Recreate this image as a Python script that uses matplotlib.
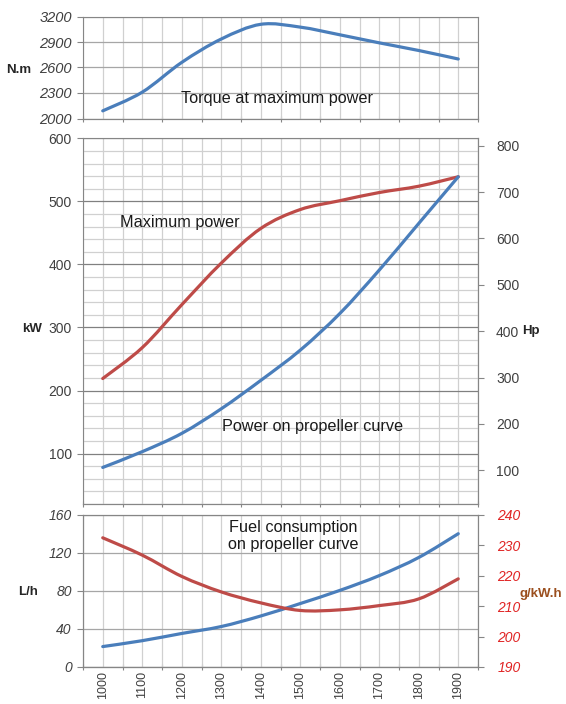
import numpy as np
import matplotlib
matplotlib.use('Agg')
import matplotlib.pyplot as plt
from matplotlib.path import Path
from matplotlib.patches import PathPatch

plt.rcParams['font.family'] = ['Liberation Sans', 'DejaVu Sans']

# values
rpm = [1000, 1100, 1200, 1300, 1400, 1500, 1600, 1700, 1800, 1900]
rpm_labels = [str(r) for r in rpm]
torque_nm = [2090, 2310, 2660, 2935, 3108, 3075, 2985, 2890, 2800, 2700]
max_power_kw = [219, 268, 336, 402, 457, 487, 501, 514, 524, 539]
prop_power_kw = [78, 103, 132, 171, 216, 264, 322, 391, 465, 539]
fuel_lh = [21.5, 27.7, 35.3, 42.6, 53.7, 66.8, 80.6, 96.2, 115.3, 140.3]
sfc_gkwh = [232.5, 226.8, 219.8, 214.7, 211.1, 208.6, 208.8, 210.2, 212.4, 219.0]

torque_ticks = [2000, 2300, 2600, 2900, 3200]
kw_ticks = [100, 200, 300, 400, 500, 600]
hp_ticks = [100, 200, 300, 400, 500, 600, 700, 800]
lh_ticks = [0, 40, 80, 120, 160]
sfc_ticks = [190, 200, 210, 220, 230, 240]

BLUE = '#4A7EBB'
RED = '#BE4B48'
SPINE = '#868686'
TXT = '#404040'
W, H = 566, 704


def smooth_line(ax, x, y, color):
    # excel style smoothed line: bezier segments through the points
    x = np.asarray(x, float)
    y = np.asarray(y, float)
    px = np.r_[x[0], x, x[-1]]
    py = np.r_[y[0], y, y[-1]]
    verts = [(x[0], y[0])]
    codes = [Path.MOVETO]
    for i in range(len(x) - 1):
        c1 = (px[i+1] + (px[i+2] - px[i]) / 6, py[i+1] + (py[i+2] - py[i]) / 6)
        c2 = (px[i+2] - (px[i+3] - px[i+1]) / 6, py[i+2] - (py[i+3] - py[i+1]) / 6)
        verts += [c1, c2, (px[i+2], py[i+2])]
        codes += [Path.CURVE4] * 3
    ax.add_patch(PathPatch(Path(verts, codes), fill=False, edgecolor=color,
                           lw=2.3, capstyle='round', joinstyle='round', zorder=3))


def panel(rect, show_x=False):
    ax = fig.add_axes(rect)
    ax.set_xlim(950, 1950)
    if show_x:
        ax.set_xticks(rpm, labels=rpm_labels, rotation=90, fontsize=9, color=TXT)
    else:
        ax.set_xticks(rpm, labels=[])
    ax.set_xticks(np.arange(950, 1951, 50), minor=True)
    ax.tick_params(axis='x', which='both', length=0, pad=3)
    ax.grid(True, axis='x', which='both', color='#D0D0D0', lw=0.9)
    for s in ax.spines.values():
        s.set_color(SPINE)
    sec = ax.secondary_xaxis('bottom')
    sec.set_xticks(np.arange(950, 1951, 100))
    sec.tick_params(direction='inout', length=5, color=SPINE, labelbottom=False)
    sec.spines['bottom'].set_color(SPINE)
    ax.tick_params(axis='y', which='major', direction='out', length=4, color=SPINE, pad=4)
    return ax


def frac(x0, y_top, x1, y_bot):
    return [x0 / W, 1 - y_bot / H, (x1 - x0) / W, (y_bot - y_top) / H]


fig = plt.figure(figsize=(W / 100, H / 100), dpi=100)

# torque panel
ax1 = panel(frac(83, 16.5, 478, 118.5))
ax1.set_ylim(2000, 3200)
ax1.set_yticks(torque_ticks, labels=[str(t) for t in torque_ticks],
               fontstyle='italic', fontsize=10.5, color=TXT)
ax1.grid(True, axis='y', color='#A6A6A6', lw=0.9)
smooth_line(ax1, rpm, torque_nm, BLUE)

# power panel
ax2 = panel(frac(83, 138.3, 478, 504))
ax2.set_ylim(20, 600)
ax2.set_yticks(kw_ticks, labels=[str(t) for t in kw_ticks], fontsize=10, color=TXT)
ax2.set_yticks(np.arange(20, 601, 20), minor=True)
ax2.tick_params(axis='y', which='minor', length=0)
ax2.grid(True, axis='y', which='major', color='#808080', lw=0.9)
ax2.grid(True, axis='y', which='minor', color='#D0D0D0', lw=0.9)
smooth_line(ax2, rpm, max_power_kw, RED)
smooth_line(ax2, rpm, prop_power_kw, BLUE)
hp = ax2.secondary_yaxis('right', functions=(lambda k: k * 1.36, lambda h: h / 1.36))
hp.set_yticks(hp_ticks, labels=[str(t) for t in hp_ticks], fontsize=10, color=TXT)
hp.tick_params(direction='out', length=4, color=SPINE, pad=9)
hp.spines['right'].set_color(SPINE)

# fuel panel
ax3 = panel(frac(83, 515, 478, 667), show_x=True)
ax3.set_ylim(0, 160)
ax3.set_yticks(lh_ticks, labels=[str(t) for t in lh_ticks],
               fontstyle='italic', fontsize=10, color=TXT)
ax3.grid(True, axis='y', color='#A6A6A6', lw=0.9)
smooth_line(ax3, rpm, fuel_lh, BLUE)
ax4 = ax3.twinx()
ax4.set_ylim(190, 240)
ax4.set_yticks(sfc_ticks, labels=[str(t) for t in sfc_ticks],
               fontstyle='italic', fontsize=10, color='#E02424')
ax4.tick_params(axis='y', direction='out', length=4, color=SPINE, pad=10)
for s in ax4.spines.values():
    s.set_color(SPINE)
smooth_line(ax4, rpm, sfc_gkwh, RED)

# axis titles and notes
def ftext(x, y, s, **kw):
    fig.text(x / W, 1 - y / H, s, va='center', **kw)

ftext(6, 70, 'N.m', fontweight='bold', fontsize=9.5, color='#262626')
ftext(22, 329, 'kW', fontweight='bold', fontsize=9.5, color='#262626')
ftext(522, 331, 'Hp', fontweight='bold', fontsize=9.5, color='#262626')
ftext(18, 592, 'L/h', fontweight='bold', fontsize=9.5, color='#262626')
ftext(519, 594, 'g/kW.h', fontweight='bold', fontsize=9.5, color='#9B4F1E')

note = dict(fontsize=11.7, color='#1A1A1A')
ftext(181, 99, 'Torque at maximum power', **note)
ftext(120, 222, 'Maximum power', **note)
ftext(222, 426, 'Power on propeller curve', **note)
ftext(293, 536, 'Fuel consumption\non propeller curve', ha='center',
      multialignment='center', linespacing=1.1, **note)

plt.savefig('out.png', dpi=100)
